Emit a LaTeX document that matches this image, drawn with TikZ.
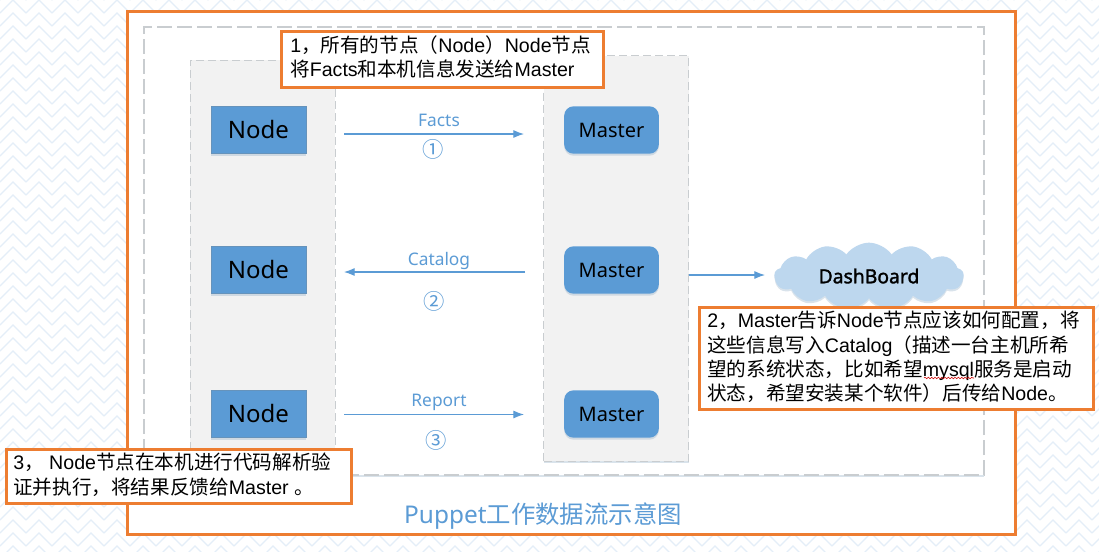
\documentclass[tikz,border=0pt]{standalone}
\usepackage{fontspec}
\setmainfont{Liberation Sans}
\newfontfamily\cjkf{Noto Sans CJK SC}
\newfontfamily\labf{Noto Sans}
\newfontfamily\labb[FakeBold=1.6]{Noto Sans}
\newcommand{\cj}[1]{{\cjkf #1}}
\usetikzlibrary{arrows.meta,shapes.symbols,shadows,decorations.pathmorphing}
\definecolor{orangeb}{HTML}{ED7D31}
\definecolor{blueb}{HTML}{5B9BD5}
\definecolor{bgpale}{HTML}{E4EEF8}
\definecolor{lanegray}{HTML}{F2F2F2}
\definecolor{dashg}{HTML}{C9CDD0}
\definecolor{cloudb}{HTML}{BDD7EE}
\tikzset{
  softshadow/.style={drop shadow={shadow xshift=0pt,shadow yshift=-1.5pt,opacity=.25,fill=blueb!60!gray}},
  lanebox/.style={draw=dashg,dashed,dash pattern=on 6pt off 3pt,fill=lanegray,line width=.7pt,minimum width=108.75pt,inner sep=0pt,softshadow},
  nodebox/.style={draw=blueb!70!gray,line width=.5pt,fill=blueb,minimum width=71pt,minimum height=35.5pt,inner sep=0pt,font=\labf\fontsize{18}{20}\selectfont,softshadow},
  masterbox/.style={rounded corners=7pt,fill=blueb,minimum width=71pt,minimum height=35.5pt,inner sep=0pt,font=\labf\fontsize{15}{18}\selectfont,softshadow},
  notebox/.style={draw=orangeb,line width=2.4pt,fill=white,inner sep=0pt,anchor=north west,minimum width=#1},
  notetext/.style={anchor=west,inner sep=0pt,align=left,font=\fontsize{14.7}{18.6}\selectfont},
  flow/.style={draw=blueb,line width=.8pt,-{Latex[length=8pt,width=6pt]}},
  flowlab/.style={text=blueb,font=\labf\fontsize{13}{15}\selectfont,inner sep=0pt},
  numlab/.style={text=blueb,font=\cjkf\fontsize{16}{18}\selectfont,inner sep=0pt},
}
\begin{document}
\begin{tikzpicture}[x=.75pt,y=-.75pt]
\useasboundingbox (0,0) rectangle (1099,551);
\fill[white] (0,0) rectangle (1099,551);
\foreach \y in {-26,-13,...,565}{
  \foreach \x in {-26,0,...,1099}{
    \draw[bgpale,line width=1pt] (\x,\y) -- ++(13,-13) -- ++(13,13);
  }
}
\node[draw=orangeb,line width=2.4pt,fill=white,minimum width=666pt,minimum height=392pt,inner sep=0pt] (frame) at (571.5,273) {};
\node[draw=dashg,dashed,dash pattern=on 11pt off 4pt,line width=.9pt,fill=white,minimum width=630pt,minimum height=336pt,inner sep=0pt,softshadow] (outer) at (564,251) {};
\node[lanebox,minimum height=315pt] (nodelane) at (262.5,270) {};
\node[lanebox,minimum height=304pt] (masterlane) at (616,258.5) {};
\node[nodebox] (n1) at (258.5,130) {\raisebox{1.5pt}{Node}};
\node[nodebox] (n2) at (258.5,270) {\raisebox{1.5pt}{Node}};
\node[nodebox] (n3) at (258.5,414) {\raisebox{1.5pt}{Node}};
\node[masterbox] (m1) at (611.5,130) {Master};
\node[masterbox] (m2) at (611.5,270) {Master};
\node[masterbox] (m3) at (611.5,414) {Master};
\coordinate (fa) at (344,134);\coordinate (fb) at (524,134);
\coordinate (ca) at (525,272);\coordinate (cb) at (344,272);
\coordinate (ra) at (344,414.5);\coordinate (rb) at (524,414.5);
\coordinate (da) at (688.5,275);\coordinate (db) at (765,275);
\draw[flow] (fa) -- (fb);
\draw[flow] (ca) -- (cb);
\draw[flow] (ra) -- (rb);
\draw[flow] (da) -- (db);
\node[flowlab] (lf) at (439,120) {Facts};
\node[flowlab] (lc) at (439,261) {Catalog};
\node[flowlab] (lr) at (439,402) {Report};
\node[numlab] (c1) at (433,149) {①};
\node[numlab] (c2) at (434,301) {②};
\node[numlab] (c3) at (436,440) {③};
\node[cloud,cloud puffs=13,cloud puff arc=110,aspect=3.2,fill=cloudb,minimum width=142pt,minimum height=50pt,inner sep=0pt,softshadow,font=\labb\fontsize{14.5}{16}\selectfont] (dash) at (869,276) {DashBoard};
\node[notebox=241.5pt,minimum height=42pt] (note1) at (279.5,29.5) {};
\node[notetext] (t1) at (290,57) {1\cj{，所有的节点（}Node\cj{）}Node\cj{节点}\\\cj{将}Facts\cj{和本机信息发送给}Master};
\node[notebox=295.5pt,minimum height=77pt] (note2) at (697.5,305.5) {};
\node[notetext,font=\fontsize{14.7}{18.3}\selectfont] (t2) at (707,357) {2\cj{，}Master\cj{告诉}Node\cj{节点应该如何配置，将}\\\cj{这些信息写入}Catalog\cj{（描述一台主机所希}\\\cj{望的系统状态，比如希望}mysql\cj{服务是启动}\\\cj{状态，希望安装某个软件）后传给}Node\cj{。}};
\coordinate (wa) at (924,378);\coordinate (wb) at (974,378);
\draw[red!80!black,line width=.4pt,decorate,decoration={snake,amplitude=.6pt,segment length=2.5pt}] (wa) -- (wb);
\node[notebox=258.75pt,minimum height=41pt] (note3) at (4.5,447.5) {};
\node[notetext] (t3) at (13,475) {3\cj{，} Node\cj{节点在本机进行代码解析验}\\\cj{证并执行，将结果反馈给}Master \cj{。}};
\node[text=blueb,inner sep=0pt,font=\labf\fontsize{18.3}{20}\selectfont] (title) at (543,516) {Puppet\cj{工作数据流示意图}};
\end{tikzpicture}
\end{document}
